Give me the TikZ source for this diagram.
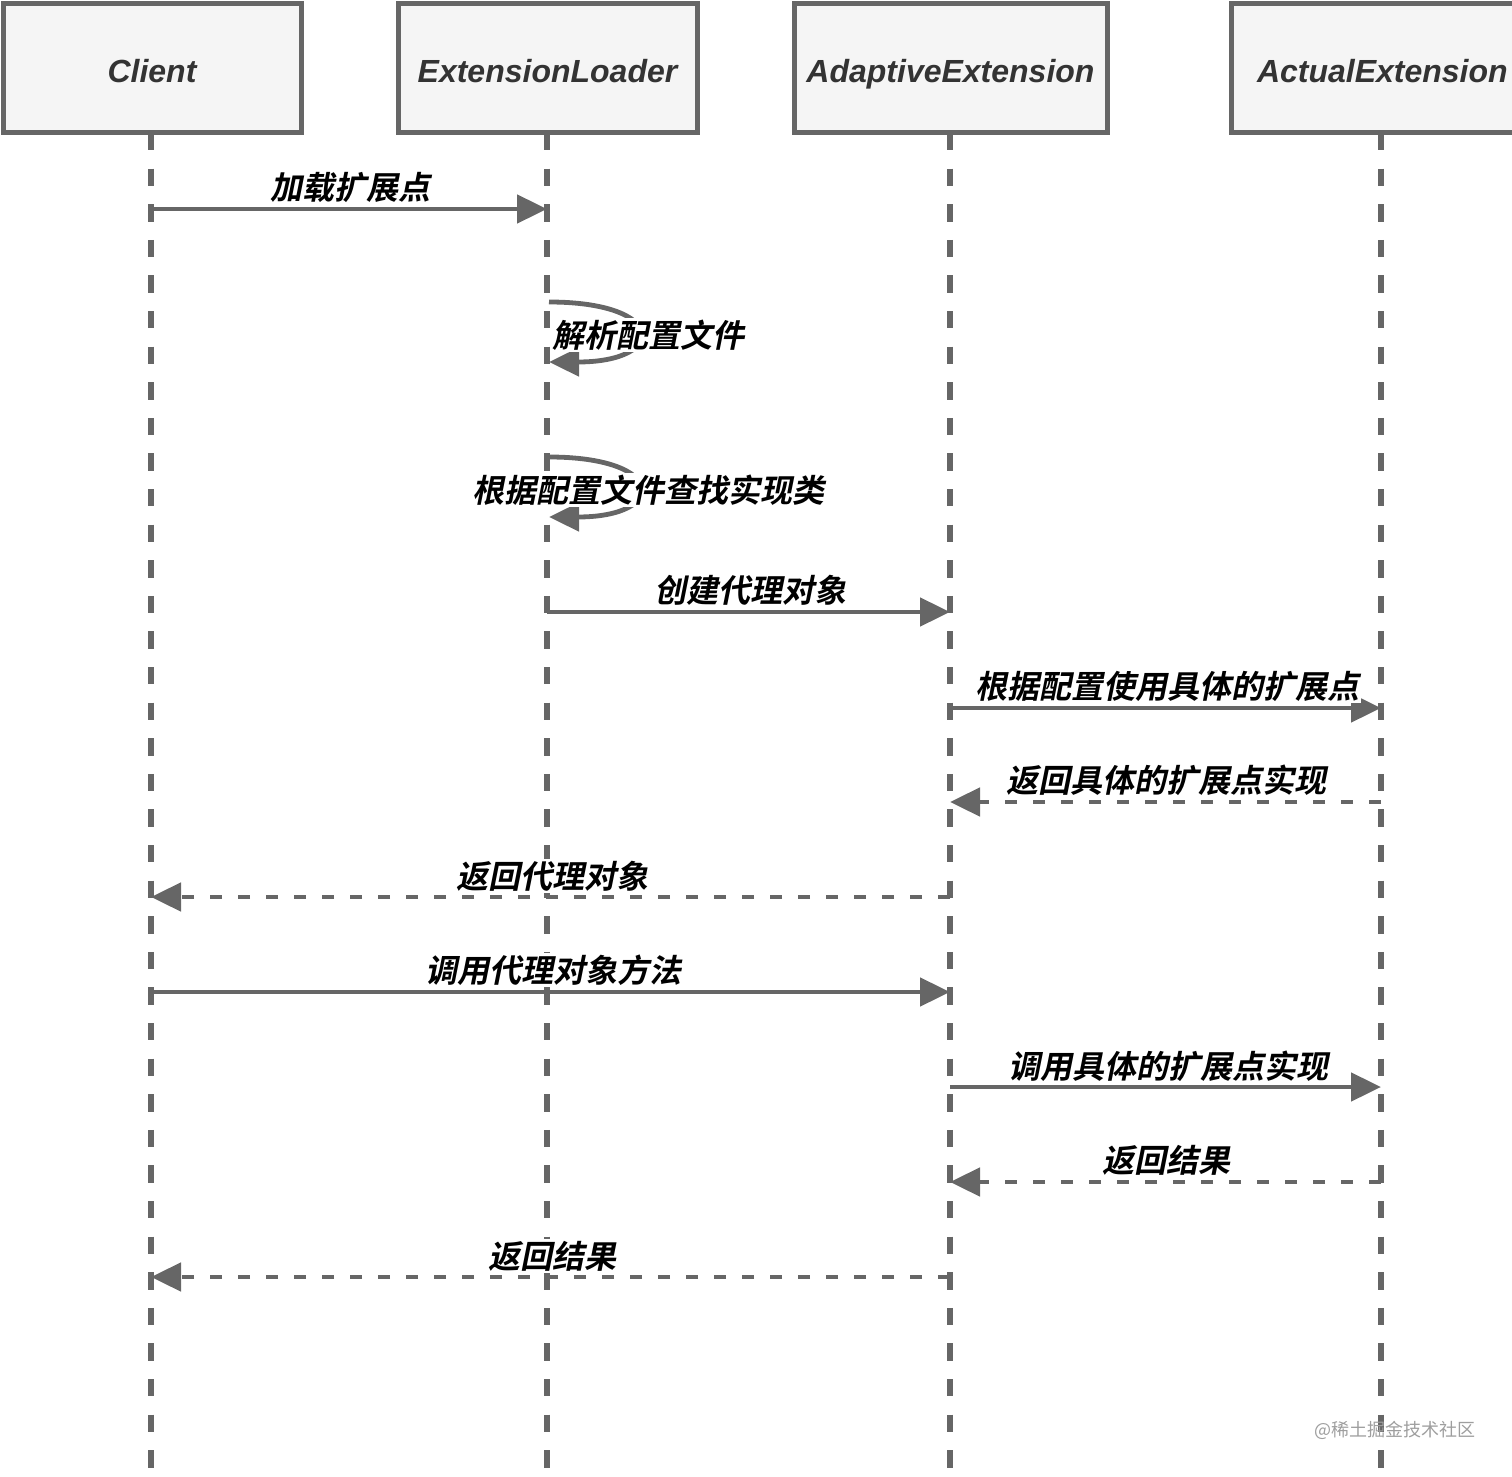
\documentclass[tikz,border=0pt]{standalone}
\usepackage{fontspec}
\setmainfont{Liberation Sans}
\newfontfamily\cjk[BoldFont={* Bold},BoldFeatures={FakeSlant=0.2}]{Noto Sans CJK SC}
\usetikzlibrary{arrows.meta}
\definecolor{ln}{HTML}{666666}
\definecolor{bx}{HTML}{F5F5F5}
\definecolor{tx}{HTML}{333333}
\tikzset{
  actor/.style={draw=ln,line width=2.5pt,fill=bx,minimum height=64.5pt,inner sep=0pt,
    text height=14.5pt,text depth=0pt,
    font=\fontsize{16}{19}\selectfont\bfseries\itshape,text=tx},
  life/.style={draw=ln,line width=2.6pt,dash pattern=on 8.7pt off 9.1pt},
  msg/.style={draw=ln,line width=2.4pt,-{Triangle[length=15pt,width=14pt]}},
  ret/.style={msg,dash pattern=on 6pt off 8pt},
  lbl/.style={font=\cjk\bfseries\fontsize{16}{19}\selectfont,text=black,fill=white,inner sep=1pt},
}
\begin{document}
\begin{tikzpicture}[x=0.5pt,y=-0.5pt]
\useasboundingbox (0,0) rectangle (1512,1477);
% actors
\node[actor,minimum width=149pt] (c) at (152,68.5) {Client};
\node[actor,minimum width=149.5pt] (el) at (547.5,68.5) {ExtensionLoader};
\node[actor,minimum width=156.5pt] (ae) at (950.5,68.5) {AdaptiveExtension};
\node[actor,minimum width=150pt,text width=150pt,align=left] (ac) at (1381,68.5) {\hspace*{13pt}ActualExtension};
% lifeline ends
\coordinate (cb) at (151,1470);
\coordinate (elb) at (547,1470);
\coordinate (aeb) at (950,1470);
\coordinate (acb) at (1381,1470);
\draw[life] (151,133) -- (cb);
\draw[life] (547,133) -- (elb);
\draw[life] (950,133) -- (aeb);
\draw[life] (1381,133) -- (acb);
% message points
\foreach \n/\x in {c/151,el/547,ae/950,ac/1381}{
  \foreach \y in {209,612,708,802,897,992,1087,1182,1277}{
    \coordinate (\n\y) at (\x,\y);
  }
}
\coordinate (s1a) at (549,302); \coordinate (s1b) at (549,362);
\coordinate (s2a) at (549,457); \coordinate (s2b) at (549,517);
% messages
\draw[msg] (c209) -- (el209);
\node[lbl] at (350,187) {加载扩展点};
\draw[msg] (s1a) .. controls (668,302) and (668,362) .. (s1b);
\node[lbl] at (648,335) {解析配置文件};
\draw[msg] (s2a) .. controls (668,457) and (668,517) .. (s2b);
\node[lbl] at (648,490) {根据配置文件查找实现类};
\draw[msg] (el612) -- (ae612);
\node[lbl] at (750,590) {创建代理对象};
\draw[msg] (ae708) -- (ac708);
\node[lbl] at (1167,686) {根据配置使用具体的扩展点};
\draw[ret] (ac802) -- (ae802);
\node[lbl] at (1166,780) {返回具体的扩展点实现};
\draw[ret] (ae897) -- (c897);
\node[lbl] at (552,876) {返回代理对象};
\draw[msg] (c992) -- (ae992);
\node[lbl] at (553,970) {调用代理对象方法};
\draw[msg] (ae1087) -- (ac1087);
\node[lbl] at (1168,1066) {调用具体的扩展点实现};
\draw[ret] (ac1182) -- (ae1182);
\node[lbl] at (1166,1160) {返回结果};
\draw[ret] (ae1277) -- (c1277);
\node[lbl] at (552,1256) {返回结果};
% watermark
\node[font=\cjk\fontsize{9}{11}\selectfont,text=black!38] (wm) at (1395,1430) {@稀土掘金技术社区};
\end{tikzpicture}
\end{document}
